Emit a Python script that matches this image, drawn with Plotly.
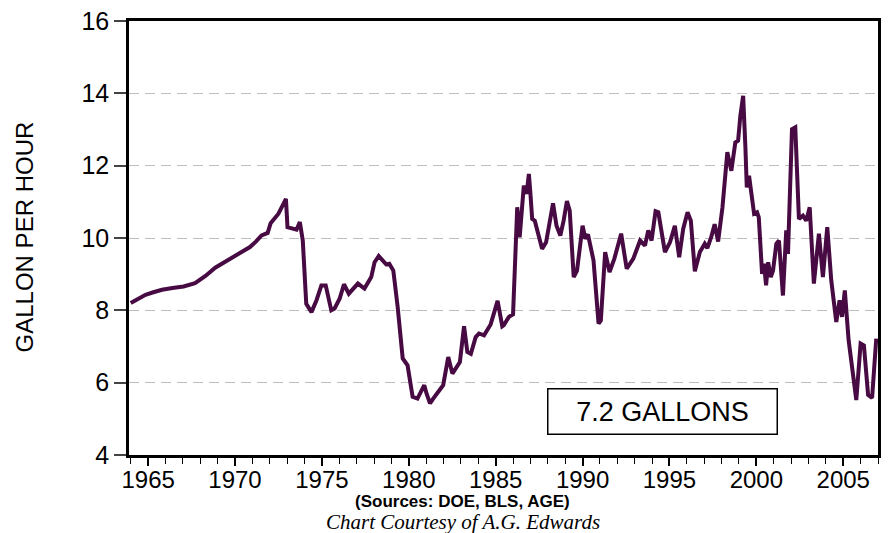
import plotly.graph_objects as go

# ---- data ----
years = [
    1964.0, 1964.5, 1964.85, 1965.3, 1965.8, 1966.4, 1967.04, 1967.7, 1968.3, 1968.86,
    1969.3, 1969.8, 1970.3, 1970.86, 1971.2, 1971.53, 1971.88, 1972.05, 1972.5, 1972.93,
    1973.02, 1973.54, 1973.73, 1973.9, 1974.1, 1974.4, 1974.69, 1974.97, 1975.22, 1975.54,
    1975.73, 1976.02, 1976.27, 1976.55, 1977.07, 1977.45, 1977.84, 1978.03, 1978.27, 1978.7,
    1978.88, 1979.11, 1979.36, 1979.65, 1979.93, 1980.22, 1980.5, 1980.89, 1981.02, 1981.22,
    1981.56, 1981.98, 1982.27, 1982.51, 1982.94, 1983.18, 1983.37, 1983.57, 1983.85, 1984.04,
    1984.33, 1984.71, 1985.11, 1985.38, 1985.47, 1985.76, 1986.0, 1986.24, 1986.38, 1986.62,
    1986.78, 1986.91, 1987.0, 1987.1, 1987.25, 1987.67, 1987.9, 1988.3, 1988.5, 1988.72,
    1988.91, 1989.1, 1989.26, 1989.49, 1989.68, 1990.0, 1990.16, 1990.31, 1990.63, 1990.92,
    1991.05, 1991.3, 1991.55, 1991.83, 1992.22, 1992.54, 1992.92, 1993.31, 1993.59, 1993.78,
    1993.97, 1994.2, 1994.36, 1994.74, 1995.03, 1995.31, 1995.56, 1995.79, 1996.04, 1996.23,
    1996.46, 1996.75, 1997.03, 1997.18, 1997.41, 1997.6, 1997.8, 1998.05, 1998.33, 1998.56,
    1998.79, 1998.95, 1999.08, 1999.24, 1999.37, 1999.45, 1999.58, 1999.71, 1999.87, 2000.04,
    2000.14, 2000.33, 2000.44, 2000.56, 2000.68, 2000.83, 2000.96, 2001.15, 2001.3, 2001.53,
    2001.72, 2001.82, 2002.05, 2002.24, 2002.45, 2002.68, 2002.87, 2003.07, 2003.31, 2003.6,
    2003.83, 2004.08, 2004.31, 2004.6, 2004.79, 2004.93, 2005.09, 2005.31, 2005.75, 2006.0,
    2006.19, 2006.43, 2006.66, 2006.9,
]
gallons_per_hour = [
    8.20, 8.33, 8.43, 8.50, 8.57, 8.62, 8.66, 8.75, 8.95, 9.18,
    9.30, 9.45, 9.57, 9.75, 9.90, 10.07, 10.14, 10.41, 10.67, 11.08,
    10.30, 10.23, 10.44, 9.93, 8.18, 7.95, 8.28, 8.69, 8.69, 8.00,
    8.05, 8.32, 8.72, 8.46, 8.74, 8.60, 8.92, 9.33, 9.50, 9.27,
    9.29, 9.10, 8.09, 6.67, 6.48, 5.61, 5.56, 5.93, 5.70, 5.43,
    5.66, 5.93, 6.71, 6.25, 6.57, 7.56, 6.85, 6.80, 7.26, 7.36,
    7.31, 7.61, 8.26, 7.56, 7.59, 7.82, 7.89, 10.85, 10.02, 11.45,
    11.22, 11.77, 11.22, 10.53, 10.48, 9.70, 9.88, 10.96, 10.34, 10.07,
    10.48, 11.02, 10.76, 8.92, 9.10, 10.34, 9.98, 10.10, 9.38, 7.63,
    7.72, 9.61, 9.06, 9.43, 10.12, 9.15, 9.43, 9.93, 9.79, 10.21,
    9.93, 10.74, 10.71, 9.61, 9.88, 10.34, 9.47, 10.25, 10.71, 10.48,
    9.08, 9.61, 9.84, 9.72, 10.04, 10.38, 9.90, 10.85, 12.37, 11.86,
    12.64, 12.69, 13.38, 13.93, 12.51, 11.40, 11.72, 11.31, 10.67, 10.71,
    10.57, 9.01, 9.29, 8.69, 9.33, 8.92, 9.10, 9.84, 9.93, 8.41,
    10.21, 9.56, 13.01, 13.06, 10.53, 10.62, 10.48, 10.85, 8.74, 10.12,
    8.92, 10.30, 8.83, 7.68, 8.28, 7.82, 8.55, 7.17, 5.52, 7.08,
    7.03, 5.66, 5.58, 7.22,
]
x_tick_values = [1965, 1970, 1975, 1980, 1985, 1990, 1995, 2000, 2005]
x_tick_labels = ["1965", "1970", "1975", "1980", "1985", "1990", "1995", "2000", "2005"]
y_tick_values = [4, 6, 8, 10, 12, 14, 16]
y_title = "GALLON PER HOUR"
callout_text = "7.2 GALLONS"
source_text = "(Sources: DOE, BLS, AGE)"
credit_text = "Chart Courtesy of A.G. Edwards"

# ---- layout constants ----
W, H = 888, 533
ML, MR, MT, MB = 129, 7, 20, 78
PW, PH = W - ML - MR, H - MT - MB

def px_to_paper_x(px):
    return (px - ML) / PW

def px_to_paper_y(py):
    return (H - MB - py) / PH

SANS = "Liberation Sans, Arial, sans-serif"
SERIF = "Liberation Serif, Times New Roman, serif"

fig = go.Figure()
fig.add_trace(go.Scatter(
    x=years, y=gallons_per_hour, mode="lines",
    line=dict(color="#470a42", width=4),
    hoverinfo="x+y", showlegend=False,
))

fig.update_layout(
    width=W, height=H,
    margin=dict(l=ML, r=MR, t=MT, b=MB),
    paper_bgcolor="white", plot_bgcolor="white",
    font=dict(family=SANS, color="black"),
    xaxis=dict(
        range=[1963.9, 2007.0],
        tickvals=x_tick_values, ticktext=x_tick_labels,
        ticks="outside", ticklen=8, tickwidth=1.5, tickcolor="black",
        ticklabelstandoff=-7,
        minor=dict(dtick=1, tick0=1965, ticks="outside", ticklen=6,
                   tickwidth=1, tickcolor="black", showgrid=False),
        showgrid=False, zeroline=False,
        showline=True, linecolor="black", linewidth=2.5, mirror=True,
        tickfont=dict(family=SANS, size=24, color="black"),
    ),
    yaxis=dict(
        range=[4, 16],
        tickvals=y_tick_values,
        ticks="outside", ticklen=12, tickwidth=1.5, tickcolor="#444",
        showgrid=True, gridcolor="#bdbdbd", gridwidth=1.3, griddash="10px,6px",
        zeroline=False,
        showline=True, linecolor="black", linewidth=2.5, mirror=True,
        tickfont=dict(family=SANS, size=25, color="black"),
    ),
    annotations=[
        dict(text=y_title, xref="paper", yref="paper",
             x=px_to_paper_x(24), y=px_to_paper_y(236.5),
             xanchor="center", yanchor="middle", textangle=-90,
             showarrow=False, font=dict(family=SANS, size=24, color="black")),
        dict(text=callout_text, xref="x", yref="y",
             x=1994.59, y=5.21, xanchor="center", yanchor="middle",
             showarrow=False, width=222, height=38,
             bordercolor="black", borderwidth=1.5, borderpad=3,
             bgcolor="white",
             font=dict(family=SANS, size=27, color="black")),
        dict(text="<b>" + source_text + "</b>", xref="paper", yref="paper",
             x=px_to_paper_x(464), y=px_to_paper_y(502),
             xanchor="center", yanchor="middle", showarrow=False,
             font=dict(family=SANS, size=17, color="black")),
        dict(text="<i>" + credit_text + "</i>", xref="paper", yref="paper",
             x=px_to_paper_x(464.5), y=px_to_paper_y(522),
             xanchor="center", yanchor="middle", showarrow=False,
             font=dict(family=SERIF, size=21, color="black")),
    ],
)

fig.write_html(
    "out.html",
    config={"displayModeBar": False},
    post_script="document.body.style.margin='0';document.body.style.overflow='hidden';",
)
